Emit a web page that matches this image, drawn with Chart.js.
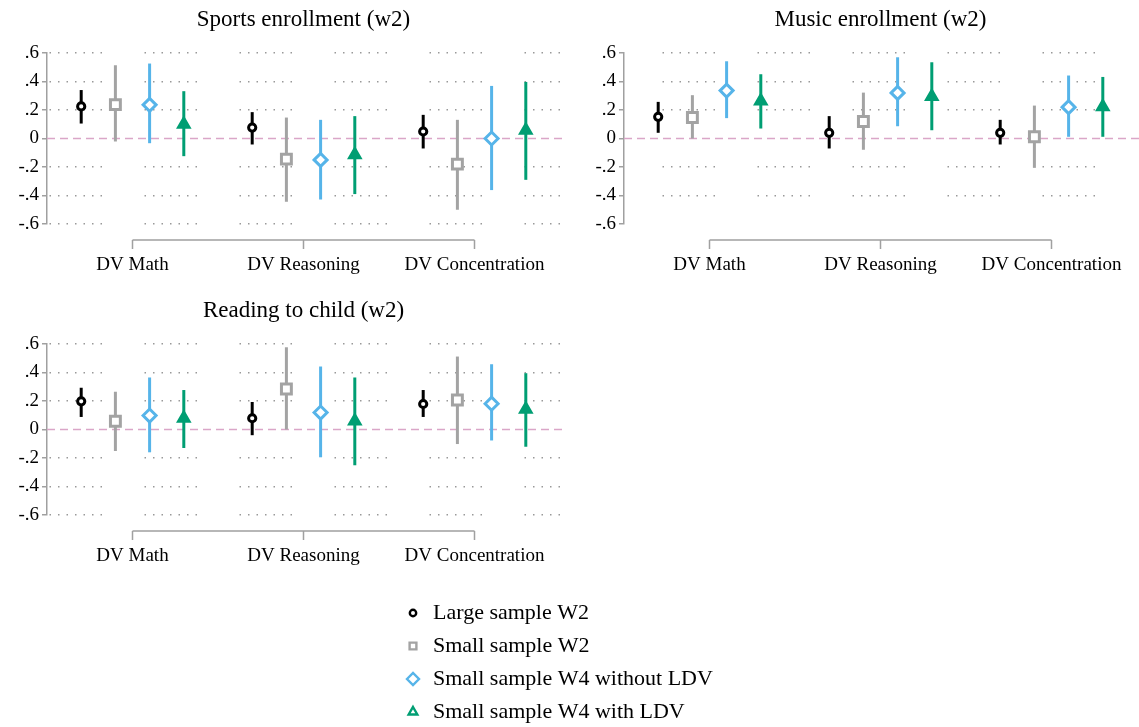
<!DOCTYPE html>
<html>
<head>
<meta charset="utf-8">
<script src="https://cdn.jsdelivr.net/npm/chart.js@4.4.1/dist/chart.umd.min.js"></script>
<style>
  html, body { margin: 0; padding: 0; background: #fff; overflow: hidden; width: 1139px; height: 727px; }
  .panel { position: absolute; width: 570px; height: 290px; }
  #legend-wrap { position: absolute; left: 393px; top: 591px; width: 700px; height: 160px; }
</style>
</head>
<body>
<div class="panel" style="left:0;top:0"><canvas id="chart-sports"></canvas></div>
<div class="panel" style="left:577px;top:0"><canvas id="chart-music"></canvas></div>
<div class="panel" style="left:0;top:291px"><canvas id="chart-reading"></canvas></div>
<div id="legend-wrap"><canvas id="chart-legend"></canvas></div>

<script>
/* ─── Data: [estimate, lower CI, upper CI] per DV ─── */
const categories = ['DV Math', 'DV Reasoning', 'DV Concentration'];
const seriesNames = ['Large sample W2', 'Small sample W2', 'Small sample W4 without LDV', 'Small sample W4 with LDV'];
const yTickValues = [-0.6, -0.4, -0.2, 0, 0.2, 0.4, 0.6];
const yTickLabels = ['-.6', '-.4', '-.2', '0', '.2', '.4', '.6'];

const sportsLarge   = [[0.225, 0.105, 0.340], [0.077, -0.042, 0.185], [0.049, -0.070, 0.166]];
const sportsSmallW2 = [[0.238, -0.021, 0.514], [-0.145, -0.444, 0.147], [-0.180, -0.500, 0.131]];
const sportsW4NoLdv = [[0.236, -0.033, 0.526], [-0.150, -0.428, 0.131], [0.000, -0.362, 0.369]];
const sportsW4Ldv   = [[0.100, -0.124, 0.332], [-0.114, -0.390, 0.157], [0.058, -0.290, 0.397]];

const musicLarge   = [[0.152, 0.040, 0.257], [0.040, -0.070, 0.157], [0.040, -0.042, 0.131]];
const musicSmallW2 = [[0.147, 0.000, 0.304], [0.119, -0.079, 0.322], [0.012, -0.206, 0.231]];
const musicW4NoLdv = [[0.336, 0.143, 0.542], [0.320, 0.086, 0.570], [0.220, 0.012, 0.442]];
const musicW4Ldv   = [[0.264, 0.070, 0.451], [0.294, 0.058, 0.535], [0.222, 0.012, 0.432]];

const readingLarge   = [[0.198, 0.088, 0.293], [0.079, -0.040, 0.193], [0.179, 0.088, 0.277]];
const readingSmallW2 = [[0.058, -0.151, 0.265], [0.284, 0.000, 0.577], [0.207, -0.102, 0.512]];
const readingW4NoLdv = [[0.098, -0.160, 0.365], [0.119, -0.195, 0.442], [0.181, -0.077, 0.458]];
const readingW4Ldv   = [[0.079, -0.130, 0.277], [0.060, -0.251, 0.365], [0.142, -0.121, 0.395]];

/* ─── Shared styles ─── */
const SERIF = "'Liberation Serif', 'Times New Roman', serif";
Chart.defaults.font.family = SERIF;
Chart.defaults.color = '#000';

const seriesStyle = [
  { color: '#000000', pointStyle: 'circle',   radius: 3.6, fill: '#ffffff' },
  { color: '#a3a3a3', pointStyle: 'rect',     radius: 7,   fill: '#ffffff' },
  { color: '#56b4e9', pointStyle: 'rectRot',  radius: 6.5, fill: '#ffffff' },
  { color: '#009e73', pointStyle: 'triangle', radius: 6,   fill: '#009e73' }
];
const seriesOffset = [-0.3, -0.1, 0.1, 0.3];
const AXIS_GRAY = '#a0a0a0';

// dotted gridline pattern: 7 dots then a gap
const gridDash = [1.5, 7, 1.5, 7, 1.5, 7, 1.5, 7, 1.5, 7, 1.5, 7, 1.5, 42.5];

/* ─── CI bars, zero line, category bracket ─── */
const coefPlugin = {
  id: 'coef',
  beforeDatasetsDraw(chart) {
    const { ctx, chartArea, scales: { x, y } } = chart;
    ctx.save();
    const y0 = y.getPixelForValue(0);
    ctx.strokeStyle = '#daa6c8';
    ctx.lineWidth = 1.5;
    ctx.setLineDash([8, 5]);
    ctx.beginPath();
    ctx.moveTo(chartArea.left, y0);
    ctx.lineTo(chartArea.right + 2, y0);
    ctx.stroke();
    ctx.setLineDash([]);
    chart.data.datasets.forEach(ds => {
      ctx.strokeStyle = ds.borderColor;
      ctx.lineWidth = 3;
      ds.data.forEach(p => {
        const px = x.getPixelForValue(p.x);
        ctx.beginPath();
        ctx.moveTo(px, y.getPixelForValue(p.lo));
        ctx.lineTo(px, y.getPixelForValue(p.hi));
        ctx.stroke();
      });
    });
    ctx.restore();
  },
  afterDraw(chart) {
    const { ctx, chartArea, scales: { x } } = chart;
    const by = chartArea.bottom + 16;
    const xs = categories.map((c, i) => x.getPixelForValue(i + 1));
    ctx.save();
    ctx.strokeStyle = AXIS_GRAY;
    ctx.lineWidth = 1.5;
    ctx.beginPath();
    ctx.moveTo(xs[0], by);
    ctx.lineTo(xs[xs.length - 1], by);
    xs.forEach(px => { ctx.moveTo(px, by); ctx.lineTo(px, by + 9); });
    ctx.stroke();
    ctx.restore();
  }
};

function makeDatasets(seriesRows) {
  return seriesRows.map((rows, s) => ({
    label: seriesNames[s],
    data: rows.map((r, i) => ({ x: i + 1 + seriesOffset[s], y: r[0], lo: r[1], hi: r[2] })),
    borderColor: seriesStyle[s].color,
    backgroundColor: seriesStyle[s].fill,
    pointStyle: seriesStyle[s].pointStyle,
    pointRadius: seriesStyle[s].radius,
    pointBorderWidth: 3,
    pointBackgroundColor: seriesStyle[s].fill,
    pointBorderColor: seriesStyle[s].color,
    showLine: false
  }));
}

function makePanel(id, title, seriesRows, dashOffset, hideBottomGrid) {
  new Chart(document.getElementById(id), {
    type: 'scatter',
    data: { datasets: makeDatasets(seriesRows) },
    options: {
      responsive: true,
      maintainAspectRatio: false,
      animation: false,
      layout: { autoPadding: false, padding: { left: 0, right: 10, top: 0, bottom: 0 } },
      plugins: {
        legend: { display: false },
        tooltip: { enabled: false },
        title: {
          display: true,
          text: title,
          fullSize: false,
          color: '#000',
          font: { family: SERIF, size: 23, weight: 'normal' },
          padding: { top: 6, bottom: 19.4 }
        }
      },
      scales: {
        x: {
          type: 'linear',
          min: 0.5,
          max: 3.5,
          afterBuildTicks: s => { s.ticks = categories.map((c, i) => ({ value: i + 1 })); },
          afterFit: s => { s.height = 66; s.paddingLeft = 0; s.paddingRight = 0; },
          ticks: {
            callback: (v, i) => categories[i],
            font: { family: SERIF, size: 19 },
            color: '#000',
            padding: 30,
            maxRotation: 0
          },
          grid: { display: false, drawTicks: false },
          border: { display: false }
        },
        y: {
          min: -0.6,
          max: 0.6,
          afterBuildTicks: s => { s.ticks = yTickValues.map(v => ({ value: v })); },
          afterFit: s => { s.width = 47; },
          ticks: {
            callback: (v, i) => yTickLabels[i],
            font: { family: SERIF, size: 19 },
            color: '#000',
            padding: 3
          },
          grid: {
            color: c => {
              if (!c.tick || Math.abs(c.tick.value) < 1e-9) return 'rgba(0,0,0,0)';
              if (hideBottomGrid && c.tick.value < -0.59) return 'rgba(0,0,0,0)';
              return '#999999';
            },
            lineWidth: 1.5,
            tickColor: AXIS_GRAY,
            tickLength: 5,
            tickWidth: 1.5,
            tickBorderDash: []
          },
          border: { display: true, color: AXIS_GRAY, width: 1.5, dash: gridDash, dashOffset: dashOffset }
        }
      }
    },
    plugins: [coefPlugin]
  });
}

makePanel('chart-sports', 'Sports enrollment (w2)',
  [sportsLarge, sportsSmallW2, sportsW4NoLdv, sportsW4Ldv], 93, false);
makePanel('chart-music', 'Music enrollment (w2)',
  [musicLarge, musicSmallW2, musicW4NoLdv, musicW4Ldv], 57, true);
makePanel('chart-reading', 'Reading to child (w2)',
  [readingLarge, readingSmallW2, readingW4NoLdv, readingW4Ldv], 93, false);

/* ─── Legend (own chart, markers as small canvases) ─── */
const legendRadius = [3.2, 4.8, 6, 5];
const markerImages = seriesStyle.map((st, s) => {
  const c = document.createElement('canvas');
  c.width = 16; c.height = 16;
  const g = c.getContext('2d');
  g.strokeStyle = st.color;
  g.fillStyle = '#ffffff';
  g.lineWidth = 2.4;
  Chart.helpers.drawPoint(g, { pointStyle: st.pointStyle, radius: legendRadius[s], borderWidth: 2.4 }, 8, 8);
  return c;
});

new Chart(document.getElementById('chart-legend'), {
  type: 'scatter',
  data: { datasets: seriesNames.map(name => ({ label: name, data: [] })) },
  options: {
    responsive: true,
    maintainAspectRatio: false,
    animation: false,
    layout: { padding: 0 },
    scales: { x: { display: false }, y: { display: false } },
    plugins: {
      tooltip: { enabled: false },
      legend: {
        position: 'left',
        align: 'start',
        labels: {
          usePointStyle: true,
          pointStyleWidth: 18,
          boxHeight: 10,
          padding: 11,
          color: '#000',
          font: { family: SERIF, size: 22 },
          generateLabels: () => seriesNames.map((name, s) => ({
            text: name,
            pointStyle: markerImages[s],
            fillStyle: '#fff',
            strokeStyle: seriesStyle[s].color,
            lineWidth: 0,
            hidden: false,
            datasetIndex: s
          }))
        }
      }
    }
  }
});
</script>
</body>
</html>
